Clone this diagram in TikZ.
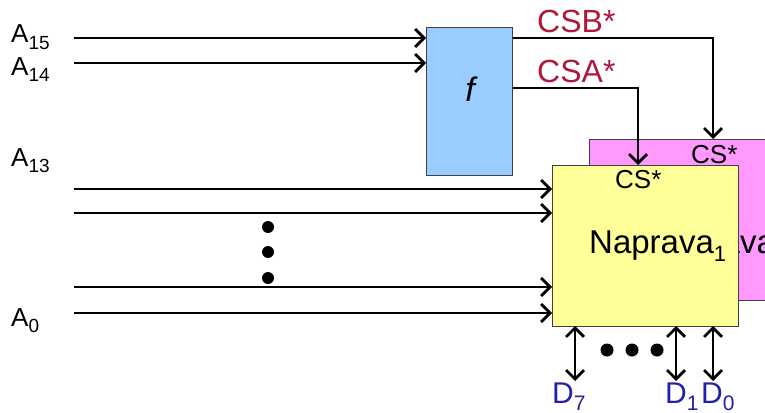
\documentclass[tikz,border=0pt]{standalone}
\usepackage{fontspec}
\setmainfont{Liberation Sans}
\usetikzlibrary{arrows.meta}
\definecolor{fblue}{HTML}{99CCFF}
\definecolor{ppink}{HTML}{FF99FF}
\definecolor{yel}{HTML}{FFFF99}
\definecolor{csred}{HTML}{B0183A}
\definecolor{dblue}{HTML}{2222A8}
\definecolor{edge}{HTML}{404040}
\newcommand{\mysub}[2]{{\raisebox{-0.25em}{\fontsize{#1}{#1}\selectfont #2}}}
\begin{document}
\begin{tikzpicture}[x=1pt,y=-1pt,
  wire/.style={line width=2.8pt,-{Straight Barb[length=9pt,width=18pt]}},
  bidir/.style={line width=2.8pt,{Straight Barb[length=9pt,width=18pt]}-{Straight Barb[length=9pt,width=18pt]}},
  blk/.style={draw=edge,line width=1.4pt,rectangle,inner sep=0pt,anchor=north west},
  lbl/.style={inner sep=0pt,anchor=base west},
  alab/.style={lbl,font=\fontsize{26}{26}\selectfont},
  cslab/.style={lbl,text=csred,font=\fontsize{32}{32}\selectfont},
  dlab/.style={lbl,text=dblue,font=\fontsize{30}{30}\selectfont},
  dot/.style={circle,fill=black,inner sep=0pt,minimum size=12pt}]
\useasboundingbox (0,0) rectangle (765,412);
\clip (0,0) rectangle (765,412);

% boxes
\node[blk,fill=fblue,minimum width=86pt,minimum height=148pt] (F) at (426,27) {};
\node[font=\fontsize{34}{34}\selectfont\itshape] (fl) at (470,89) {f};
\node[blk,fill=ppink,minimum width=200pt,minimum height=161pt] (P) at (589,139) {};
\node[lbl,font=\fontsize{33}{33}\selectfont] (pt) at (650,253) {Naprava\mysub{22}{0}};
\node[lbl,font=\fontsize{26}{26}\selectfont] (pcs) at (691,163) {CS*};
\node[blk,fill=yel,minimum width=186pt,minimum height=161pt] (Y) at (552,165) {};
\node[lbl,font=\fontsize{26}{26}\selectfont] (ycs) at (615,188) {CS*};
\node[lbl,font=\fontsize{33}{33}\selectfont] (yt) at (589,253) {Naprava\mysub{22}{1}};

% address labels
\node[alab] (a15) at (11,43) {A\mysub{19}{15}};
\node[alab] (a14) at (11,75) {A\mysub{19}{14}};
\node[alab] (a13) at (11,166) {A\mysub{19}{13}};
\node[alab] (a0) at (11,326) {A\mysub{19}{0}};

% input wires
\coordinate (s15) at (74,38);
\coordinate (s14) at (74,63);
\coordinate (s3) at (74,189);
\coordinate (s2) at (74,213);
\coordinate (s1) at (74,287);
\coordinate (s0) at (74,313);
\draw[wire] (s15) -- (s15 -| F.west);
\draw[wire] (s14) -- (s14 -| F.west);
\draw[wire] (s3) -- (s3 -| Y.west);
\draw[wire] (s2) -- (s2 -| Y.west);
\draw[wire] (s1) -- (s1 -| Y.west);
\draw[wire] (s0) -- (s0 -| Y.west);

% vertical dots
\node[dot] (v1) at (268,227) {};
\node[dot] (v2) at (268,252) {};
\node[dot] (v3) at (268,278) {};

% chip select outputs
\coordinate (fb) at (F.east |- 0,38);
\coordinate (fa) at (F.east |- 0,88);
\coordinate (pb) at (713,139);
\coordinate (ya) at (638,165);
\draw[wire] (fb) -| (pb);
\draw[wire] (fa) -| (ya);
\node[cslab] (csb) at (537,33) {CSB*};
\node[cslab] (csa) at (537,82) {CSA*};

% data lines
\coordinate (t7) at (575,326);
\coordinate (t1) at (676,326);
\coordinate (t0) at (713,326);
\coordinate (e7) at (575,381);
\coordinate (e1) at (676,381);
\coordinate (e0) at (713,381);
\draw[bidir] (t7) -- (e7);
\draw[bidir] (t1) -- (e1);
\draw[bidir] (t0) -- (e0);
\node[dot,minimum size=13pt] (h1) at (607,350) {};
\node[dot,minimum size=13pt] (h2) at (632,350) {};
\node[dot,minimum size=13pt] (h3) at (657,350) {};
\node[dlab] (d7) at (552,403) {D\mysub{21}{7}};
\node[dlab] (d1) at (665,403) {D\mysub{21}{1}};
\node[dlab] (d0) at (701,403) {D\mysub{21}{0}};
\end{tikzpicture}
\end{document}
